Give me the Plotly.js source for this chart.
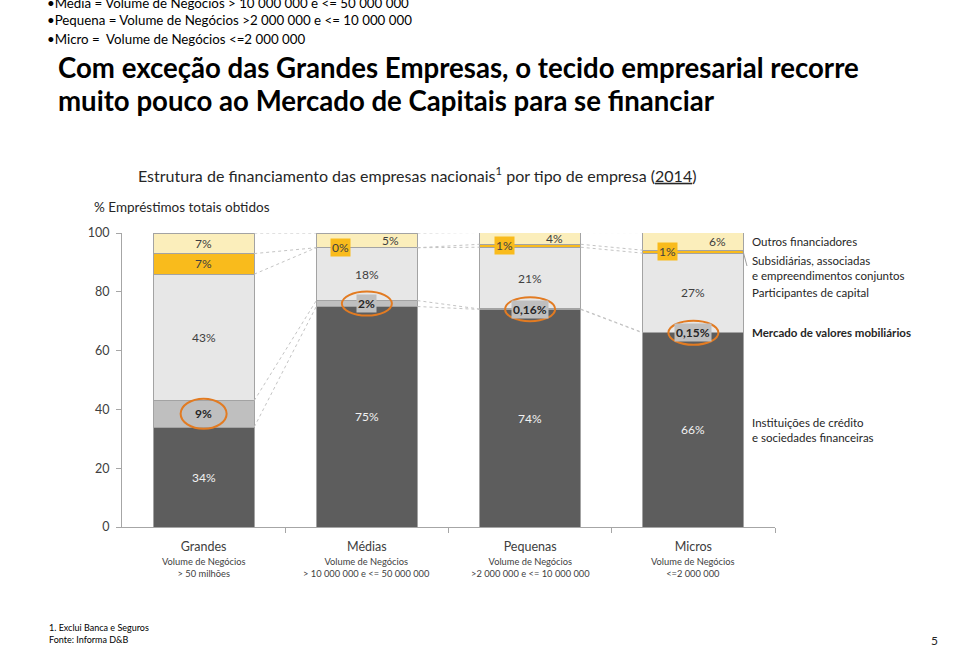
<!DOCTYPE html>
<html><head><meta charset="utf-8">
<script src="https://cdn.plot.ly/plotly-3.0.1.min.js"></script>
<style>html,body{margin:0;padding:0;background:#fff}#chart{width:960px;height:648px}</style>
</head><body><div id="chart"></div>
<script>
// ---- data ----
const categories = ['Grandes', 'Médias', 'Pequenas', 'Micros'];
const volumeLines = [['Volume de Negócios', '> 50 milhões'],
                     ['Volume de Negócios', '> 10 000 000 e <= 50 000 000'],
                     ['Volume de Negócios', '>2 000 000 e <= 10 000 000'],
                     ['Volume de Negócios', '<=2 000 000']];
const seriesNames = ['Instituições de crédito<br>e sociedades financeiras',
                     'Mercado de valores mobiliários',
                     'Participantes de capital',
                     'Subsidiárias, associadas<br>e empreendimentos conjuntos',
                     'Outros financiadores'];
const credito = [34, 75, 74, 66];
const mercado = [9, 2, 0.16, 0.15];
const participantes = [43, 18, 21, 27];
const subsidiarias = [7, 0, 1, 1];
const outros = [7, 5, 4, 6];
const yTicks = [0, 20, 40, 60, 80, 100];

// ---- styling ----
const FONT = 'Lato, "Open Sans", sans-serif';
const colors = ['#5d5d5d', '#bfbfbf', '#e7e7e7', '#f9bb1c', '#fbeebb'];
const TXT = '#404040';
const ORANGE = '#e27b22';
const L = 122, R = 775, T = 233, B = 527;
const PX = x => (x - L) / (R - L);
const PY = y => (B - y) / (B - T);
const xs = categories.map((c, i) => i);
const BW = 0.62;

const all = [credito, mercado, participantes, subsidiarias, outros];
const traces = all.map((vals, k) => ({
  type: 'bar', x: xs, y: vals, width: BW, name: seriesNames[k],
  marker: {color: colors[k], line: {color: '#a3a3a3', width: 1}},
  hoverinfo: 'none', showlegend: false
}));

// cumulative tops
const cum = all.map((_, k) => xs.map(i => all.slice(0, k + 1).reduce((s, a) => s + a[i], 0)));
const base = all.map((_, k) => xs.map(i => k === 0 ? 0 : cum[k - 1][i]));
const mid = all.map((_, k) => xs.map(i => (base[k][i] + cum[k][i]) / 2));

// connector dotted lines
const lx = [], ly = [];
cum.forEach(level => {
  for (let i = 0; i < xs.length - 1; i++) {
    lx.push(xs[i] + BW / 2, xs[i + 1] - BW / 2, null);
    ly.push(level[i], level[i + 1], null);
  }
});
traces.push({type: 'scatter', mode: 'lines', x: lx, y: ly, showlegend: false, hoverinfo: 'none',
  line: {color: '#c4c4c4', width: 1, dash: 'dot'}});

const fmt = v => (v < 1 && v > 0 ? v.toFixed(2).replace('.', ',') : Math.round(v)) + '%';

const ann = [];
const shapes = [];
xs.forEach(i => {
  ann.push({x: i, y: mid[0][i], xref: 'x', yref: 'y', text: fmt(credito[i]), showarrow: false,
    font: {family: FONT, size: 12, color: '#f2f2f2'}});
  ann.push({x: i, y: mid[1][i], xref: 'x', yref: 'y', text: '<b>' + fmt(mercado[i]) + '</b>', showarrow: false,
    bgcolor: colors[1], borderpad: 1, font: {family: FONT, size: 12, color: '#262626'}});
  shapes.push({type: 'circle', xref: 'x', yref: 'y', xsizemode: 'pixel', ysizemode: 'pixel',
    xanchor: i, yanchor: mid[1][i], x0: i === 0 ? -23 : -25, x1: i === 0 ? 23 : 25,
    y0: i === 0 ? -15 : -12, y1: i === 0 ? 15 : 12,
    line: {color: ORANGE, width: 2}});
  ann.push({x: i, y: mid[2][i], xref: 'x', yref: 'y', text: fmt(participantes[i]), showarrow: false,
    font: {family: FONT, size: 12, color: TXT}});
  ann.push({x: i, y: mid[3][i], xref: 'x', yref: 'y', text: fmt(subsidiarias[i]), showarrow: false,
    xshift: i === 0 ? 0 : -26, bgcolor: i === 0 ? 'rgba(0,0,0,0)' : colors[3], borderpad: 1,
    font: {family: FONT, size: 12, color: TXT}});
  ann.push({x: i, y: mid[4][i], xref: 'x', yref: 'y', text: fmt(outros[i]), showarrow: false,
    xshift: i === 0 ? 0 : 24, font: {family: FONT, size: 12, color: TXT}});
  // category sub-labels
  ann.push({x: i, y: PY(567), xref: 'x', yref: 'paper', yanchor: 'middle', text: volumeLines[i].join('<br>'), showarrow: false,
    font: {family: FONT, size: 9.3, color: TXT}});
});

// legend labels at right (aligned to last bar)
const last = xs.length - 1;
const legShift = [0, 0, 0, -16, 0];
seriesNames.forEach((n, k) => {
  ann.push({x: PX(750), y: mid[k][last], xref: 'paper', yref: 'y', xanchor: 'left', align: 'left',
    text: k === 1 ? '<b>' + n + '</b>' : n, showarrow: false, yshift: legShift[k],
    font: {family: FONT, size: 11.5, color: '#262626'}});
});
shapes.push({type: 'line', xref: 'paper', yref: 'paper', x0: PX(743), y0: PY(251), x1: PX(747), y1: PY(266),
  line: {color: '#a0a0a0', width: 1}});

// page texts
const pageTexts = [
  {t: '•Média = Volume de Negócios > 10 000 000 e <= 50 000 000', x: 45, y: 3, s: 13.3, c: '#000'},
  {t: '•Pequena = Volume de Negócios >2 000 000 e <= 10 000 000', x: 45, y: 20, s: 13.3, c: '#000'},
  {t: '•Micro =  Volume de Negócios <=2 000 000', x: 45, y: 39, s: 13.3, c: '#000'},
  {t: '<b>Com exceção das Grandes Empresas, o tecido empresarial recorre</b>', x: 56, y: 67, s: 27.6, c: '#000'},
  {t: '<b>muito pouco ao Mercado de Capitais para se financiar</b>', x: 56, y: 101, s: 27.6, c: '#000'},
  {t: 'Estrutura de financiamento das empresas nacionais<sup>1</sup> por tipo de empresa (<span style="text-decoration:underline">2014</span>)', x: 136, y: 174, s: 16, c: '#262626'},
  {t: '% Empréstimos totais obtidos', x: 92, y: 207, s: 13.5, c: '#262626'},
  {t: '1. Exclui Banca e Seguros<br>Fonte: Informa D&B', x: 47, y: 633, s: 9, c: '#000'},
  {t: '5', x: 929, y: 640, s: 12, c: '#262626'}
];
pageTexts.forEach(p => ann.push({x: PX(p.x), y: PY(p.y), xref: 'paper', yref: 'paper', xanchor: 'left', yanchor: 'middle',
  align: 'left', text: p.t, showarrow: false, font: {family: FONT, size: p.s, color: p.c}}));

const layout = {
  width: 960, height: 648,
  margin: {l: L, r: 960 - R, t: T, b: 648 - B, pad: 0},
  paper_bgcolor: '#fff', plot_bgcolor: '#fff',
  barmode: 'stack', showlegend: false,
  font: {family: FONT, color: TXT},
  xaxis: {range: [-0.5, 3.5], tickmode: 'array', tickvals: xs, ticktext: categories, ticks: '',
    showgrid: false, zeroline: false, showline: true, linecolor: '#a6a6a6', linewidth: 1,
    tickfont: {family: FONT, size: 12.5, color: TXT}, ticklabelstandoff: 8,
    minor: {tickmode: 'array', tickvals: [0.5, 1.5, 2.5, 3.5], ticks: 'outside', ticklen: 5, tickcolor: '#a6a6a6', showgrid: false}},
  yaxis: {range: [0, 100], tickmode: 'array', tickvals: yTicks, ticks: 'outside', ticklen: 5, tickcolor: '#a6a6a6',
    showgrid: false, zeroline: false, showline: true, linecolor: '#a6a6a6', linewidth: 1,
    tickfont: {family: FONT, size: 12.5, color: TXT}, ticklabelstandoff: 4},
  annotations: ann, shapes: shapes
};
Plotly.newPlot('chart', traces, layout, {staticPlot: true, displayModeBar: false});
</script></body></html>
